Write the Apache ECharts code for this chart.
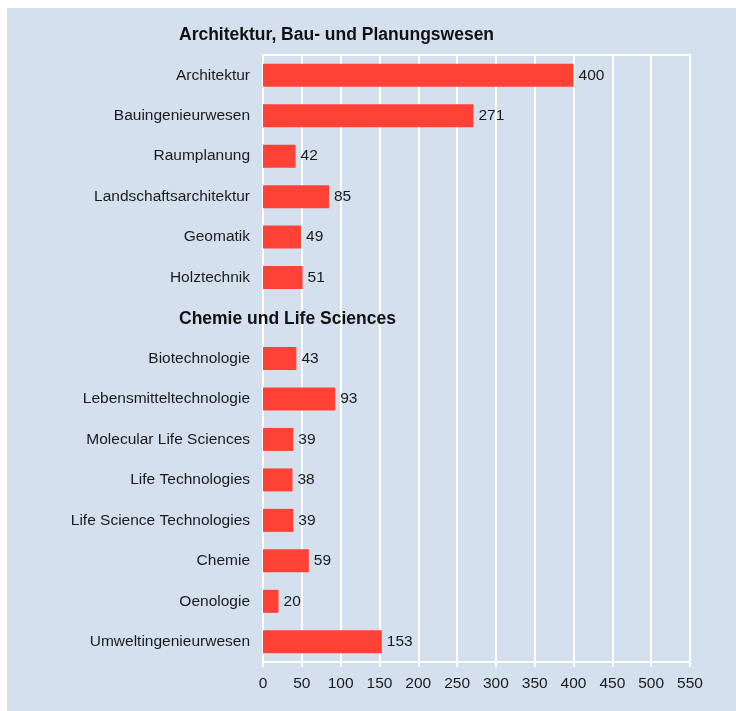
<!DOCTYPE html>
<html>
<head>
<meta charset="utf-8">
<script src="https://cdn.jsdelivr.net/npm/echarts@6/dist/echarts.min.js"></script>
<style>
  html, body { margin: 0; padding: 0; background: #fff; }
  #chart { width: 736px; height: 711px; }
</style>
</head>
<body>
<div id="chart"></div>
<script>
// Gruppen-Titel
var groupArch = 'Architektur, Bau- und Planungswesen';
var groupChem = 'Chemie und Life Sciences';

var archNames = ['Architektur', 'Bauingenieurwesen', 'Raumplanung', 'Landschaftsarchitektur', 'Geomatik', 'Holztechnik'];
var archValues = [400, 271, 42, 85, 49, 51];

var chemNames = ['Biotechnologie', 'Lebensmitteltechnologie', 'Molecular Life Sciences', 'Life Technologies',
    'Life Science Technologies', 'Chemie', 'Oenologie', 'Umweltingenieurwesen'];
var chemValues = [43, 93, 39, 38, 39, 59, 20, 153];

var xTicks = [0, 50, 100, 150, 200, 250, 300, 350, 400, 450, 500, 550];

// Zwischenzeile fuer den zweiten Gruppentitel (ohne Balken)
var categories = archNames.concat([' '], chemNames);
var values = archValues.concat(['-'], chemValues);

var myChart = echarts.init(document.getElementById('chart'));
var font = '"Liberation Sans", Arial, Helvetica, sans-serif';

var option = {
    animation: false,
    textStyle: { fontFamily: font },
    graphic: [{
        type: 'rect',
        left: 7, top: 8,
        shape: { width: 729, height: 703 },
        style: { fill: '#d5e0ee' },
        z: -10
    }],
    title: [{
        text: groupArch,
        left: 179, top: 26,
        padding: 0,
        textStyle: { fontFamily: font, fontSize: 17.5, fontWeight: 'bold', color: '#111' }
    }, {
        text: groupChem,
        left: 179, top: 310,
        padding: 0,
        textStyle: { fontFamily: font, fontSize: 17.5, fontWeight: 'bold', color: '#111' }
    }],
    grid: {
        left: 263, right: 46, top: 55, bottom: 49,
        containLabel: false,
        outerBoundsMode: 'none',
        show: true,
        borderColor: '#ffffff',
        borderWidth: 2,
        backgroundColor: 'transparent'
    },
    xAxis: {
        type: 'value',
        min: xTicks[0],
        max: xTicks[xTicks.length - 1],
        interval: 50,
        axisLine: { show: true, lineStyle: { color: '#ffffff', width: 2 } },
        axisTick: { show: true, length: 5, lineStyle: { color: '#ffffff', width: 2 } },
        splitLine: { show: true, lineStyle: { color: '#ffffff', width: 2 } },
        axisLabel: { color: '#1a1a1a', fontSize: 15.5, margin: 14, fontFamily: font }
    },
    yAxis: {
        type: 'category',
        inverse: true,
        data: categories,
        axisLine: { show: true, lineStyle: { color: '#ffffff', width: 2 } },
        axisTick: { show: false },
        splitLine: { show: false },
        axisLabel: { color: '#1a1a1a', fontSize: 15.5, margin: 13, fontFamily: font, interval: 0 }
    },
    series: [{
        type: 'bar',
        data: values,
        barWidth: 23,
        itemStyle: { color: '#ff4136' },
        label: {
            show: true,
            position: 'right',
            distance: 5,
            color: '#1a1a1a',
            fontSize: 15.5,
            fontFamily: font
        }
    }]
};

myChart.setOption(option);
</script>
</body>
</html>
